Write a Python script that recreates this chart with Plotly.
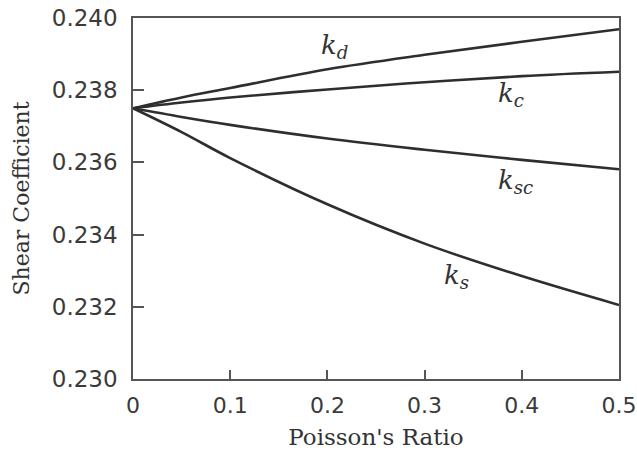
import plotly.graph_objects as go

poisson = [0.0, 0.05, 0.1, 0.2, 0.3, 0.4, 0.5]
k_d = [0.2375, 0.23780, 0.23806, 0.23858, 0.23898, 0.23934, 0.23969]
k_c = [0.2375, 0.23766, 0.23780, 0.23802, 0.23822, 0.23839, 0.23851]
k_sc = [0.2375, 0.23726, 0.23704, 0.23666, 0.23635, 0.23607, 0.23581]
k_s = [0.2375, 0.23684, 0.23612, 0.23484, 0.23375, 0.23285, 0.23205]

x_ticks = [0, 0.1, 0.2, 0.3, 0.4, 0.5]
x_ticktext = ["0", "0.1", "0.2", "0.3", "0.4", "0.5"]
y_ticks = [0.230, 0.232, 0.234, 0.236, 0.238, 0.240]
y_ticktext = ["0.230", "0.232", "0.234", "0.236", "0.238", "0.240"]

labels = ["<i>k<sub>d</sub></i>", "<i>k<sub>c</sub></i>", "<i>k<sub>sc</sub></i>", "<i>k<sub>s</sub></i>"]
label_x = [0.207, 0.389, 0.394, 0.333]
label_y = [0.23920, 0.23787, 0.23546, 0.23283]

line_color = "#2e2e2e"
fig = go.Figure()
for ys in [k_d, k_c, k_sc, k_s]:
    fig.add_trace(go.Scatter(x=poisson, y=ys, mode="lines",
                             line=dict(color=line_color, width=2.6, shape="spline"),
                             showlegend=False, hoverinfo="skip"))

for t, lx, ly in zip(labels, label_x, label_y):
    fig.add_annotation(x=lx, y=ly, xref="x", yref="y", text=t, showarrow=False,
                       font=dict(family="DejaVu Serif", size=26, color="#333333"))

axis_common = dict(showline=True, linecolor="#555555", linewidth=1.5, mirror=True,
                   ticks="inside", tickcolor="#555555", tickwidth=1.5,
                   showgrid=False, zeroline=False, automargin=False,
                   ticklabeloverflow="allow")

fig.update_xaxes(range=[0, 0.5], tickvals=x_ticks, ticktext=x_ticktext, ticklen=9,
                 ticklabelstandoff=6,
                 tickfont=dict(family="DejaVu Sans", size=22, color="#3a3a3a"),
                 title=dict(text="Poisson's Ratio", standoff=12,
                            font=dict(family="DejaVu Serif", size=23, color="#333333")),
                 **axis_common)
fig.update_yaxes(range=[0.230, 0.240], tickvals=y_ticks, ticktext=y_ticktext, ticklen=11,
                 ticklabelstandoff=9,
                 tickfont=dict(family="DejaVu Sans", size=23, color="#3a3a3a"),
                 title=dict(text="Shear Coefficient", standoff=16,
                            font=dict(family="DejaVu Serif", size=22, color="#333333")),
                 **axis_common)

fig.update_layout(width=637, height=452, margin=dict(l=133, r=18, t=18, b=73),
                  plot_bgcolor="white", paper_bgcolor="white")

fig.write_html("out.html", config={"displayModeBar": False},
               post_script="document.body.style.margin='0';")
